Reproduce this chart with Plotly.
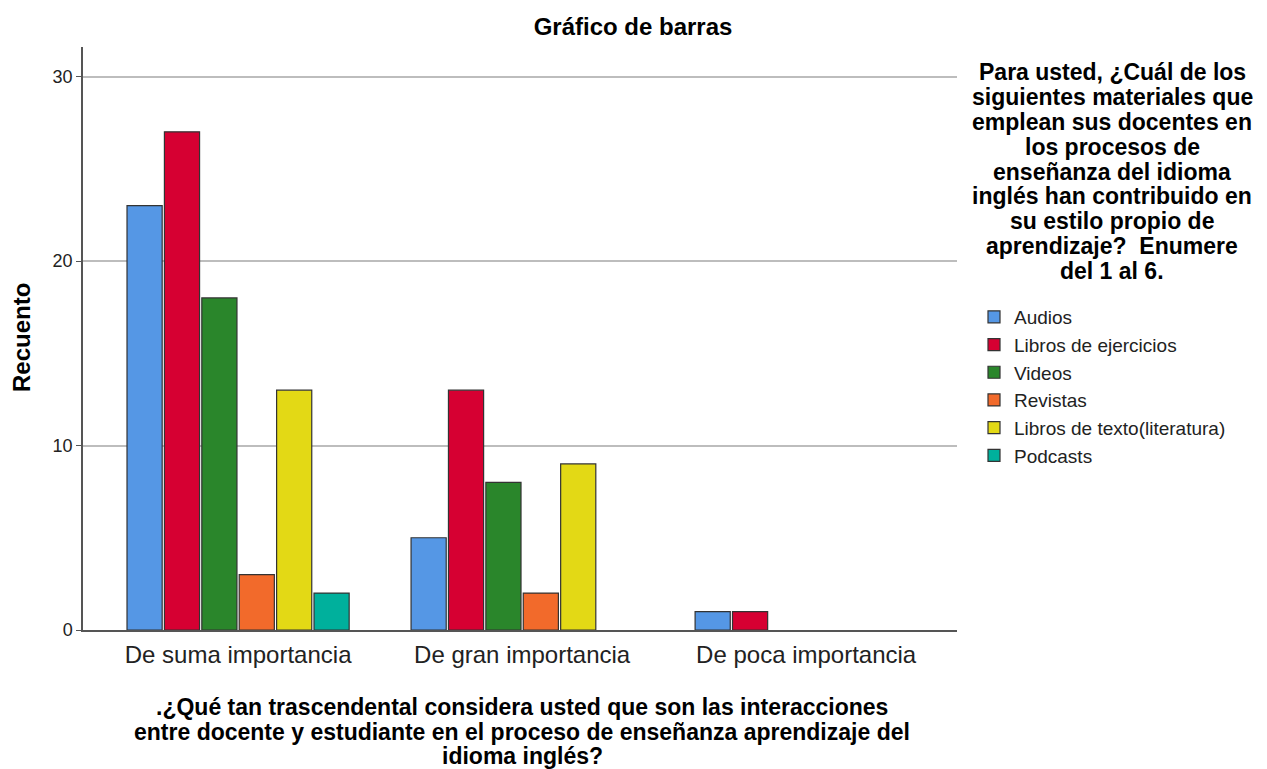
import plotly.graph_objects as go

categorias = ["De suma importancia", "De gran importancia", "De poca importancia"]

audios = [23, 5, 1]
libros_ejercicios = [27, 13, 1]
videos = [18, 8, 0]
revistas = [3, 2, 0]
libros_texto = [13, 9, 0]
podcasts = [2, 0, 0]

series = [
    ("Audios", audios, "#5597E5"),
    ("Libros de ejercicios", libros_ejercicios, "#D60032"),
    ("Videos", videos, "#2A862B"),
    ("Revistas", revistas, "#F26A2B"),
    ("Libros de texto(literatura)", libros_texto, "#E3D915"),
    ("Podcasts", podcasts, "#00B09C"),
]

legend_title = [
    "Para usted, ¿Cuál de los",
    "siguientes materiales que",
    "emplean sus docentes en",
    "los procesos de",
    "enseñanza del idioma",
    "inglés han contribuido en",
    "su estilo propio de",
    "aprendizaje?  Enumere",
    "del 1 al 6.",
]

x_title = [
    ".¿Qué tan trascendental considera usted que son las interacciones",
    "entre docente y estudiante en el proceso de enseñanza aprendizaje del",
    "idioma inglés?",
]

W, H = 1259, 761
L, T, R, B = 75, 39, 310, 139
PW, PH = W - L - R, H - T - B


def px(xp, yp):
    # pixel position in figure -> paper coords
    return (xp - L) / PW, 1 - (yp - T) / PH


fig = go.Figure()

for nombre, valores, color in series:
    fig.add_trace(go.Bar(
        x=categorias,
        y=valores,
        name=nombre,
        marker=dict(color=color,
                    line=dict(color="#333333", width=[0 if v == 0 else 1.2 for v in valores])),
    ))

fam = "Liberation Sans, Arial, sans-serif"
bold_font = dict(family=fam, size=24, color="#000000")

for i, linea in enumerate(legend_title):
    ax, ay = px(1104, 64 + i * 24.9)
    fig.add_annotation(text=f"<b>{linea}</b>", xref="paper", yref="paper", x=ax, y=ay,
                       xanchor="center", yanchor="middle", showarrow=False,
                       font=dict(family=fam, size=23, color="#000000"))

for i, linea in enumerate(x_title):
    ax, ay = px(514, 699 + i * 24.5)
    fig.add_annotation(text=f"<b>{linea}</b>", xref="paper", yref="paper", x=ax, y=ay,
                       xanchor="center", yanchor="middle", showarrow=False,
                       font=dict(family=fam, size=23, color="#000000"))

ax, ay = px(14, 330)
fig.add_annotation(text="<b>Recuento</b>", xref="paper", yref="paper", x=ax, y=ay,
                   xanchor="center", yanchor="middle", textangle=-90, showarrow=False,
                   font=bold_font)

lx, ly = px(966, 290)

fig.update_layout(
    title=dict(text="<b>Gráfico de barras</b>", x=625 / W, xref="container", y=1 - 19 / H,
               xanchor="center", yanchor="middle", font=bold_font),
    barmode="group",
    bargap=0.21,
    bargroupgap=0.06,
    paper_bgcolor="white",
    plot_bgcolor="white",
    font=dict(family=fam, color="#222222"),
    width=W,
    height=H,
    margin=dict(l=L, r=R, t=T, b=B),
    showlegend=True,
    legend=dict(
        x=lx, y=ly, xanchor="left", yanchor="top",
        font=dict(size=19, color="#222222"),
        itemclick=False, traceorder="normal",
    ),
)

fig.update_xaxes(
    range=[-0.546, 2.531],
    showline=True, linecolor="#555555", linewidth=1.5,
    ticks="", tickfont=dict(size=24, color="#222222"),
    ticklabelstandoff=2,
    automargin=False,
)

fig.update_yaxes(
    range=[0, 31.6],
    tickvals=[0, 10, 20, 30],
    showgrid=True, gridcolor="#BDBDBD", gridwidth=1.5,
    showline=True, linecolor="#555555", linewidth=1.5,
    ticks="outside", ticklen=5, tickcolor="#555555",
    tickfont=dict(size=18, color="#222222"),
    zeroline=False,
    automargin=False,
)

fig.write_html("out.html")
